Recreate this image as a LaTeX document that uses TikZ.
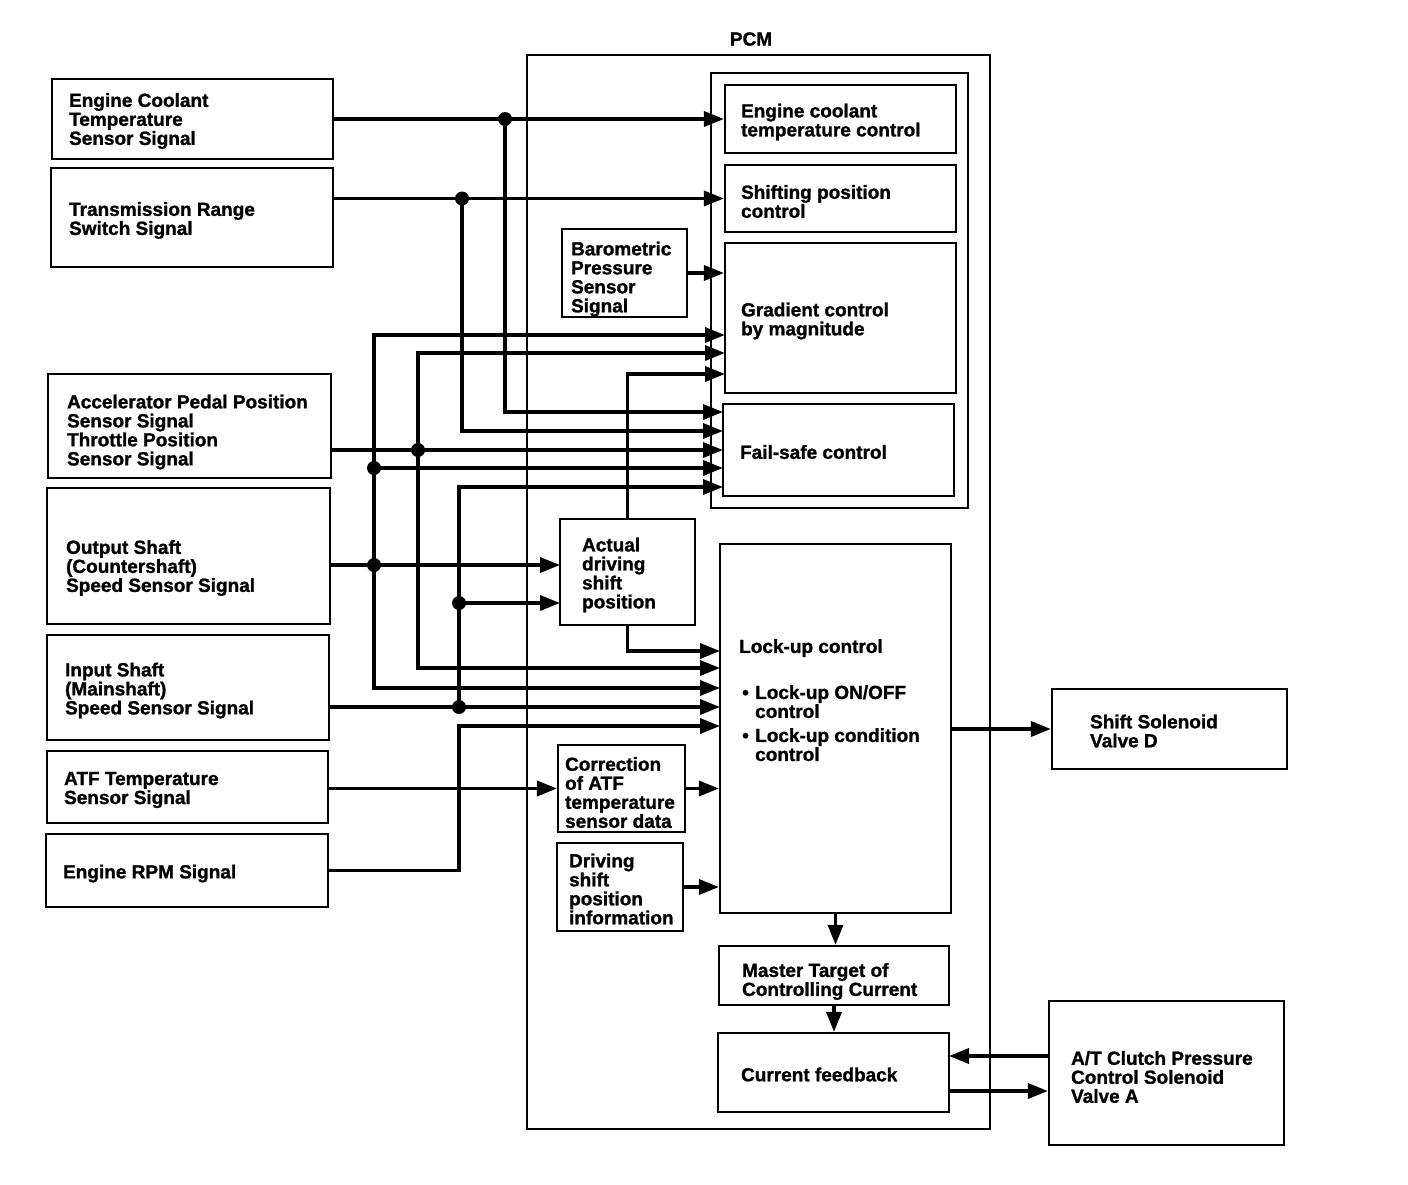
\documentclass[tikz,border=0pt]{standalone}
\usepackage{fontspec}
\setmainfont{Liberation Sans}[BoldFeatures={FakeBold=1.2}]
\usetikzlibrary{arrows.meta}
\begin{document}
\begin{tikzpicture}[x=1pt,y=-1pt,
  box/.style={draw, line width=2.2pt, inner sep=0pt},
  txt/.style={align=left, inner sep=0pt, font=\fontsize{19}{19}\selectfont\bfseries},
  arr/.style={line width=3.5pt, -{Triangle[length=20pt,width=15pt]}},
  jdot/.style={fill=black}]
\useasboundingbox[fill=white] (0,0) rectangle (1408,1184);

% PCM frame
\node[draw, line width=1.8pt, minimum width=463pt, minimum height=1074pt, inner sep=0pt] (pcm) at (758.5,592) {};
\node[txt] (pcmT) at (751,39) {PCM};
\node[draw, line width=2pt, minimum width=257pt, minimum height=435pt, inner sep=0pt] (grp) at (839.5,290.5) {};

% left input boxes
\node[box, minimum width=281pt, minimum height=80pt] (ect) at (192.5,119) {};
\node[txt, anchor=west] (ectT) at ([xshift=18pt,yshift=-2pt]ect.west) {Engine Coolant\\Temperature\\Sensor Signal};
\node[box, minimum width=282pt, minimum height=99pt] (tr) at (192,217.5) {};
\node[txt, anchor=west] (trT) at ([xshift=19pt,yshift=-3pt]tr.west) {Transmission Range\\Switch Signal};
\node[box, minimum width=283pt, minimum height=104pt] (app) at (189.5,426) {};
\node[txt, anchor=west] (appT) at ([xshift=20pt,yshift=-6pt]app.west) {Accelerator Pedal Position\\Sensor Signal\\Throttle Position\\Sensor Signal};
\node[box, minimum width=283pt, minimum height=136pt] (os) at (188.5,556) {};
\node[txt, anchor=west] (osT) at ([xshift=20pt,yshift=-12pt]os.west) {Output Shaft\\(Countershaft)\\Speed Sensor Signal};
\node[box, minimum width=282pt, minimum height=105pt] (is) at (188,687.5) {};
\node[txt, anchor=west] (isT) at ([xshift=19pt,yshift=-3pt]is.west) {Input Shaft\\(Mainshaft)\\Speed Sensor Signal};
\node[box, minimum width=281pt, minimum height=72pt] (atf) at (187.5,787) {};
\node[txt, anchor=west] (atfT) at ([xshift=18pt,yshift=-3pt]atf.west) {ATF Temperature\\Sensor Signal};
\node[box, minimum width=282pt, minimum height=73pt] (rpm) at (187,870.5) {};
\node[txt, anchor=west] (rpmT) at ([xshift=18pt,yshift=-3pt]rpm.west) {Engine RPM Signal};

% PCM inner boxes
\node[box, minimum width=231pt, minimum height=68pt] (ectc) at (840.5,119) {};
\node[txt, anchor=west] (ectcT) at ([xshift=17pt,yshift=-3pt]ectc.west) {Engine coolant\\temperature control};
\node[box, minimum width=231pt, minimum height=67pt] (spc) at (840.5,198.5) {};
\node[txt, anchor=west] (spcT) at ([xshift=17pt,yshift=-3pt]spc.west) {Shifting position\\control};
\node[box, minimum width=231pt, minimum height=150pt] (grad) at (840.5,318) {};
\node[txt, anchor=west] (gradT) at ([xshift=17pt,yshift=-3pt]grad.west) {Gradient control\\by magnitude};
\node[box, minimum width=231pt, minimum height=92pt] (fs) at (838.5,450) {};
\node[txt, anchor=west] (fsT) at ([xshift=18pt,yshift=-2pt]fs.west) {Fail-safe control};
\node[box, minimum width=125pt, minimum height=88pt] (baro) at (624.5,273) {};
\node[txt, anchor=west] (baroT) at ([xshift=10pt,yshift=-6pt]baro.west) {Barometric\\Pressure\\Sensor\\Signal};
\node[box, minimum width=135pt, minimum height=106pt] (act) at (627.5,572) {};
\node[txt, anchor=west] (actT) at ([xshift=23pt,yshift=-3pt]act.west) {Actual\\driving\\shift\\position};
\node[box, minimum width=231pt, minimum height=369pt] (lu) at (835.5,728.5) {};
\node[txt, anchor=north west] (luT) at (739,639) {Lock-up control\\[27pt]
\makebox[16pt][l]{\hspace{3pt}•}Lock-up ON/OFF\\
\hspace*{16pt}control\\[5pt]
\makebox[16pt][l]{\hspace{3pt}•}Lock-up condition\\
\hspace*{16pt}control};
\node[box, minimum width=127pt, minimum height=87pt] (corr) at (621.5,788.5) {};
\node[txt, anchor=west] (corrT) at ([xshift=8pt,yshift=-4pt]corr.west) {Correction\\of ATF\\temperature\\sensor data};
\node[box, minimum width=126pt, minimum height=88pt] (drv) at (620,887) {};
\node[txt, anchor=west] (drvT) at ([xshift=13pt,yshift=-2pt]drv.west) {Driving\\shift\\position\\information};
\node[box, minimum width=230pt, minimum height=59pt] (mt) at (834,975.5) {};
\node[txt, anchor=west] (mtT) at ([xshift=24pt,yshift=-6pt]mt.west) {Master Target of\\Controlling Current};
\node[box, minimum width=231pt, minimum height=79pt] (cf) at (833.5,1072.5) {};
\node[txt, anchor=west] (cfT) at ([xshift=24pt,yshift=-2pt]cf.west) {Current feedback};

% outputs
\node[box, minimum width=235pt, minimum height=80pt] (ssd) at (1169.5,729) {};
\node[txt, anchor=west] (ssdT) at ([xshift=39pt,yshift=-2pt]ssd.west) {Shift Solenoid\\Valve D};
\node[box, minimum width=235pt, minimum height=144pt] (at) at (1166.5,1073) {};
\node[txt, anchor=west] (atT) at ([xshift=23pt,yshift=-4pt]at.west) {A/T Clutch Pressure\\Control Solenoid\\Valve A};

% connector end points
\coordinate (g1) at (725,335);
\coordinate (g2) at (725,353);
\coordinate (g3) at (725,374);
\coordinate (f1) at (723,412);
\coordinate (f2) at (723,431);
\coordinate (f3) at (723,450);
\coordinate (f4) at (723,468);
\coordinate (f5) at (723,487);
\coordinate (l1) at (720,651);
\coordinate (l3) at (720,668);
\coordinate (l4) at (720,688);
\coordinate (l5) at (720,707);
\coordinate (l6) at (720,726);
\coordinate (a1) at (560,565);
\coordinate (a2) at (560,603);
\coordinate (jE) at (505,119);
\coordinate (jT) at (462,198.5);
\coordinate (jA) at (418,450);
\coordinate (jO) at (374,565);
\coordinate (jO2) at (374,468);
\coordinate (jI) at (459,707);
\coordinate (jI2) at (459,603);
\coordinate (cfa) at (949,1056);
\coordinate (cfb) at (949,1091);

% connectors
\draw[arr] (ect.east) -- (ectc.west);
\draw[arr] (jE) |- (f1);
\draw[arr] (tr.east |- spc.west) -- (spc.west);
\draw[arr] (jT) |- (f2);
\draw[arr] (baro.east) -- (baro.east -| grad.west);
\draw[arr] (app.east |- f3) -- (f3);
\draw[arr] (jA) |- (g2);
\draw[arr] (jA) |- (l3);
\draw[arr] (os.east |- a1) -- (a1);
\draw[arr] (jO) |- (g1);
\draw[arr] (jO2) -- (f4);
\draw[arr] (jO) |- (l4);
\draw[arr] (is.east |- l5) -- (l5);
\draw[arr] (jI) |- (f5);
\draw[arr] (jI2) -- (a2);
\draw[arr] (rpm.east) -- (rpm.east -| jI) |- (l6);
\draw[arr] (act.north) |- (g3);
\draw[arr] (act.south) |- (l1);
\draw[arr] (atf.east |- corr.west) -- (corr.west);
\draw[arr] (corr.east) -- (corr.east -| lu.west);
\draw[arr] (drv.east) -- (drv.east -| lu.west);
\draw[arr] (lu.east |- ssd.west) -- (ssd.west);
\draw[arr] (lu.south) -- (lu.south |- mt.north);
\draw[arr] (mt.south) -- (mt.south |- cf.north);
\draw[arr] (at.west |- cfa) -- (cfa);
\draw[arr] (cfb) -- (at.west |- cfb);

% junction dots
\foreach \p in {jE,jT,jA,jO,jO2,jI,jI2} \fill[jdot] (\p) circle (7);
\end{tikzpicture}
\end{document}
